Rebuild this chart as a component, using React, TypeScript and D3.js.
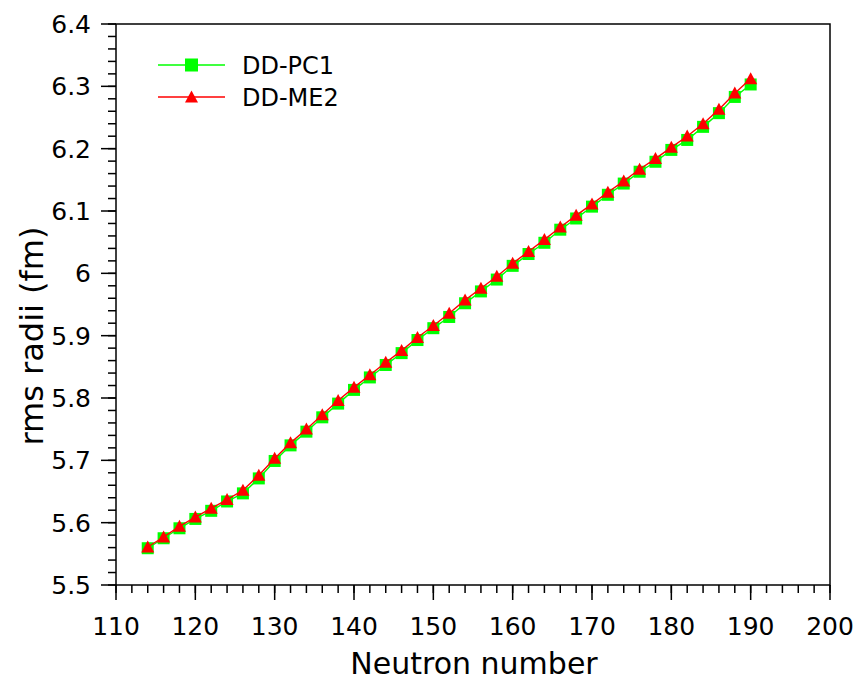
import React from "react";
import * as d3 from "d3";

const neutrons = [114,116,118,120,122,124,126,128,130,132,134,136,138,140,142,144,146,148,150,152,154,156,158,160,162,164,166,168,170,172,174,176,178,180,182,184,186,188,190];
const ddpc1 = [5.559,5.575,5.591,5.606,5.619,5.634,5.647,5.671,5.699,5.724,5.746,5.769,5.791,5.813,5.833,5.853,5.872,5.893,5.912,5.930,5.952,5.971,5.990,6.012,6.031,6.049,6.070,6.088,6.107,6.126,6.144,6.163,6.179,6.198,6.214,6.235,6.257,6.283,6.303];
const ddme2 = [5.561,5.577,5.594,5.609,5.623,5.637,5.652,5.676,5.703,5.728,5.750,5.773,5.796,5.817,5.837,5.857,5.876,5.897,5.916,5.936,5.957,5.976,5.995,6.016,6.035,6.054,6.074,6.093,6.111,6.130,6.148,6.167,6.184,6.202,6.220,6.240,6.263,6.289,6.312];
const xTicks = [110,120,130,140,150,160,170,180,190,200];
const yTicks = [5.5,5.6,5.7,5.8,5.9,6,6.1,6.2,6.3,6.4];
const seriesNames = ["DD-PC1", "DD-ME2"];

const W = 858, H = 680;
const L = 116, R = 830, T = 24, B = 585;
const FONT = "DejaVu Sans, sans-serif";

export default function App() {
  const x = d3.scaleLinear().domain([110, 200]).range([L, R]);
  const y = d3.scaleLinear().domain([5.5, 6.4]).range([B, T]);
  const xMinor = d3.range(110, 200.001, 2);
  const yMinor = d3.range(0, 46).map((i) => 5.5 + i * 0.02);
  const line = d3.line<number>().x((_, i) => x(neutrons[i])).y((v) => y(v));
  const tri = (cx: number, cy: number) => {
    const w = 13, h = 12;
    return `M${cx},${cy - h * 0.55}L${cx + w / 2},${cy + h * 0.45}L${cx - w / 2},${cy + h * 0.45}Z`;
  };
  const sq = 12;
  return (
    <svg width={W} height={H} style={{ position: "absolute", left: 0, top: 0, background: "#fff" }} fontFamily={FONT}>
      <rect x={0} y={0} width={W} height={H} fill="#fff" />
      {xMinor.map((v, i) => (
        <line key={"xm" + i} x1={x(v)} x2={x(v)} y1={B} y2={B + 8} stroke="#000" strokeWidth={1.5} />
      ))}
      {yMinor.map((v, i) => (
        <line key={"ym" + i} x1={L - 8} x2={L} y1={y(v)} y2={y(v)} stroke="#000" strokeWidth={1.5} />
      ))}
      {xTicks.map((v) => (
        <g key={"xt" + v}>
          <line x1={x(v)} x2={x(v)} y1={B} y2={B + 15} stroke="#000" strokeWidth={1.5} />
          <text x={x(v)} y={B + 50} fontSize={25} textAnchor="middle" fill="#000">{v}</text>
        </g>
      ))}
      {yTicks.map((v) => (
        <g key={"yt" + v}>
          <line x1={L - 15} x2={L} y1={y(v)} y2={y(v)} stroke="#000" strokeWidth={1.5} />
          <text x={L - 25} y={y(v) + 9} fontSize={25} textAnchor="end" fill="#000">{String(v)}</text>
        </g>
      ))}
      <rect x={L} y={T} width={R - L} height={B - T} fill="none" stroke="#000" strokeWidth={1.5} />
      <path d={line(ddpc1) || ""} fill="none" stroke="#00ff00" strokeWidth={1.4} />
      {ddpc1.map((v, i) => (
        <rect key={"s" + i} x={x(neutrons[i]) - sq / 2} y={y(v) - sq / 2} width={sq} height={sq} fill="#00ff00" />
      ))}
      <path d={line(ddme2) || ""} fill="none" stroke="#ff0000" strokeWidth={1.4} />
      {ddme2.map((v, i) => (
        <path key={"t" + i} d={tri(x(neutrons[i]), y(v))} fill="#ff0000" />
      ))}
      <line x1={158} x2={225} y1={65} y2={65} stroke="#00ff00" strokeWidth={1.4} />
      <rect x={191.5 - 6.5} y={65 - 6.5} width={13} height={13} fill="#00ff00" />
      <text x={242} y={73.5} fontSize={24} fill="#000">{seriesNames[0]}</text>
      <line x1={158} x2={225} y1={97} y2={97} stroke="#ff0000" strokeWidth={1.4} />
      <path d={tri(191.5, 97)} fill="#ff0000" />
      <text x={242} y={105.5} fontSize={24} fill="#000">{seriesNames[1]}</text>
      <text x={(L + R) / 2 + 1} y={674} fontSize={30} textAnchor="middle" fill="#000">Neutron number</text>
      <text transform={`translate(43, 336) rotate(-90)`} fontSize={32} textAnchor="middle" fill="#000">rms radii (fm)</text>
    </svg>
  );
}
